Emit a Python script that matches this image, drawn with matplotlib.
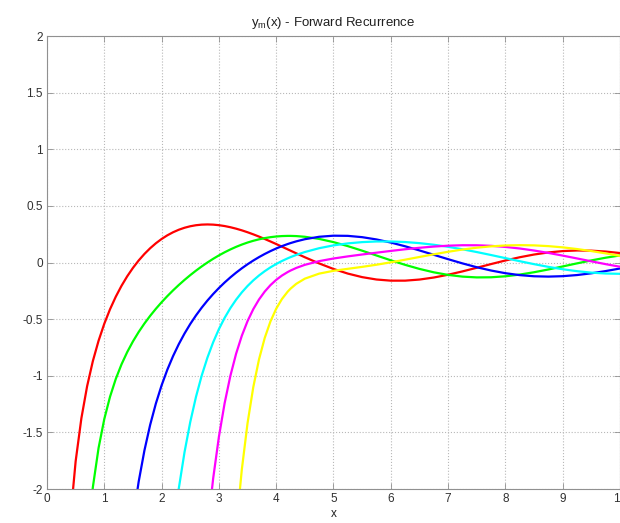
import numpy as np
import matplotlib
matplotlib.use("Agg")
import matplotlib.pyplot as plt

nan = np.nan

x_vals = [0.4, 0.5, 0.6, 0.7, 0.8, 0.9, 1.0, 1.1, 1.2, 1.3, 1.4, 1.5, 1.6, 1.7, 1.8, 1.9,
          2.0, 2.1, 2.2, 2.3, 2.4, 2.5, 2.6, 2.7, 2.8, 2.9, 3.0, 3.1, 3.2, 3.3, 3.4, 3.5,
          3.6, 3.7, 3.8, 3.9, 4.0, 4.1, 4.2,
          4.25, 4.35, 4.5, 4.75, 5.0, 5.25, 5.5, 5.75, 6.0, 6.25, 6.5, 6.75, 7.0, 7.25, 7.5,
          7.75, 8.0, 8.25, 8.5, 8.75, 9.0, 9.25, 9.5, 9.75, 10.0]

y_m0 = [-2.3027, -1.7552, -1.3756, -1.0926, -0.8709, -0.6907, -0.5403, -0.4124, -0.3020,
        -0.2058, -0.1214, -0.0472, 0.0183, 0.0758, 0.1262, 0.1702, 0.2081, 0.2404, 0.2675,
        0.2897, 0.3072, 0.3205, 0.3296, 0.3348, 0.3365, 0.3348, 0.3300, 0.3223, 0.3120,
        0.2992, 0.2844, 0.2676, 0.2491, 0.2292, 0.2081, 0.1861, 0.1634, 0.1402, 0.1167,
        0.1050, 0.0815, 0.0468, -0.0079, -0.0567, -0.0975, -0.1288, -0.1498, -0.1600, -0.1599,
        -0.1502, -0.1323, -0.1077, -0.0783, -0.0462, -0.0134, 0.0182, 0.0468, 0.0708,
        0.0892, 0.1012, 0.1065, 0.1050, 0.0972, 0.0839]

y_m1 = [nan, nan, nan, -2.4812, -1.9853, -1.6378, -1.3818, -1.1851, -1.0283, -0.8995,
        -0.7906, -0.6964, -0.6133, -0.5387, -0.4709, -0.4085, -0.3506, -0.2966, -0.2459,
        -0.1983, -0.1534, -0.1112, -0.0715, -0.0343, 0.0005, 0.0330, 0.0630, 0.0906,
        0.1157, 0.1385, 0.1588, 0.1767, 0.1921, 0.2051, 0.2158, 0.2241, 0.2301, 0.2338, 0.2353,
        0.2353, 0.2337, 0.2276, 0.2087, 0.1804, 0.1450, 0.1049, 0.0623, 0.0199, -0.0203, -0.0562,
        -0.0863, -0.1092, -0.1243, -0.1312, -0.1301, -0.1214, -0.1062, -0.0856, -0.0612,
        -0.0345, -0.0073, 0.0190, 0.0427, 0.0628]

y_m2 = [nan, nan, nan, nan, nan, nan, nan, nan, nan, nan, nan, -2.2743, -1.9349, -1.6603,
        -1.4343, -1.2452, -1.0846, -0.9465, -0.8264, -0.7207, -0.6269, -0.5429, -0.4671,
        -0.3983, -0.3355, -0.2780, -0.2251, -0.1762, -0.1311, -0.0894, -0.0508, -0.0152,
        0.0177, 0.0480, 0.0758, 0.1011, 0.1242, 0.1449, 0.1634,
        0.1718, 0.1871, 0.2061, 0.2276, 0.2372, 0.2357, 0.2242, 0.2040, 0.1766, 0.1437, 0.1070,
        0.0684, 0.0297, -0.0074, -0.0413, -0.0705, -0.0941, -0.1111, -0.1212, -0.1242,
        -0.1204, -0.1104, -0.0950, -0.0753, -0.0525]

y_m3 = [nan, nan, nan, nan, nan, nan, nan, nan, nan, nan, nan, nan, nan, nan, nan, nan,
        nan, nan, -2.3835, -1.9952, -1.6750, -1.4088, -1.1861, -0.9984, -0.8394, -0.7040,
        -0.5881, -0.4885, -0.4026, -0.3282, -0.2635, -0.2070, -0.1576, -0.1143, -0.0762,
        -0.0425, -0.0128, 0.0136, 0.0370,
        0.0478, 0.0674, 0.0929, 0.1267, 0.1516, 0.1692, 0.1805, 0.1860, 0.1861, 0.1812, 0.1714,
        0.1572, 0.1389, 0.1172, 0.0927, 0.0664, 0.0391, 0.0119, -0.0142, -0.0382, -0.0591,
        -0.0763, -0.0890, -0.0968, -0.0996]

y_m4 = [nan, nan, nan, nan, nan, nan, nan, nan, nan, nan, nan, nan, nan, nan, nan, nan,
        nan, nan, nan, nan, nan, nan, nan, nan, -2.3625, -1.9068, -1.5393, -1.2421, -1.0012,
        -0.8056, -0.6465, -0.5172, -0.4118, -0.3261, -0.2562, -0.1993, -0.1529, -0.1150, -0.0841,
        -0.0707, -0.0476, -0.0202, 0.0125, 0.0357, 0.0544, 0.0711, 0.0871, 0.1026, 0.1173, 0.1304,
        0.1412, 0.1489, 0.1529, 0.1525, 0.1476, 0.1380, 0.1241, 0.1062, 0.0850, 0.0613,
        0.0362, 0.0107, -0.0141, -0.0371]

y_m5 = [nan, nan, nan, nan, nan, nan, nan, nan, nan, nan, nan, nan, nan, nan, nan, nan,
        nan, nan, nan, nan, nan, nan, nan, nan, nan, nan, nan, nan, nan, -2.3570, -1.8283,
        -1.4183, -1.1007, -0.8551, -0.6655, -0.5196, -0.4077, -0.3222, -0.2572,
        -0.2308, -0.1879, -0.1423, -0.0978, -0.0730, -0.0553, -0.0382, -0.0193, 0.0020, 0.0252,
        0.0492, 0.0729, 0.0951, 0.1148, 0.1310, 0.1431, 0.1507, 0.1535, 0.1516, 0.1450,
        0.1341, 0.1193, 0.1014, 0.0809, 0.0588]

series = [y_m0, y_m1, y_m2, y_m3, y_m4, y_m5]
colors = ["#ff0000", "#00ff00", "#0000ff", "#00ffff", "#ff00ff", "#ffff00"]

x_ticks = [0, 1, 2, 3, 4, 5, 6, 7, 8, 9, 10]
y_ticks = [-2, -1.5, -1, -0.5, 0, 0.5, 1, 1.5, 2]
y_ticklabels = ["-2", "-1.5", "-1", "-0.5", "0", "0.5", "1", "1.5", "2"]

plt.rcParams['font.family'] = ['Liberation Sans', 'DejaVu Sans']
plt.rcParams['mathtext.fontset'] = 'custom'
plt.rcParams['mathtext.rm'] = 'Liberation Sans'

fig = plt.figure(figsize=(6.2, 5.23), dpi=100)
ax = fig.add_axes([0.0758, 0.065, 0.9242, 0.866])

x = np.array(x_vals)
for ys, c in zip(series, colors):
    ax.plot(x, np.array(ys, dtype=float), color=c, linewidth=1.6, solid_capstyle='round')

ax.set_xlim(0, 10)
ax.set_ylim(-2, 2)
ax.set_xticks(x_ticks)
ax.set_xticklabels([str(t) for t in x_ticks])
ax.set_yticks(y_ticks)
ax.set_yticklabels(y_ticklabels)
ax.grid(True, linestyle=':', color='#b8b8b8', linewidth=0.8)
ax.tick_params(direction='in', top=True, right=True, length=4, width=0.6,
               colors='#909090', labelcolor='#303030', labelsize=8.5, pad=3)
for s in ax.spines.values():
    s.set_color('#909090')
    s.set_linewidth(0.8)

ax.set_title(r'$\mathregular{y_m}$(x) - Forward Recurrence', fontsize=9.5, color='#202020', pad=7)
ax.set_xlabel('x', fontsize=8.5, color='#202020', labelpad=2)

fig.savefig('out.png', dpi=100)
